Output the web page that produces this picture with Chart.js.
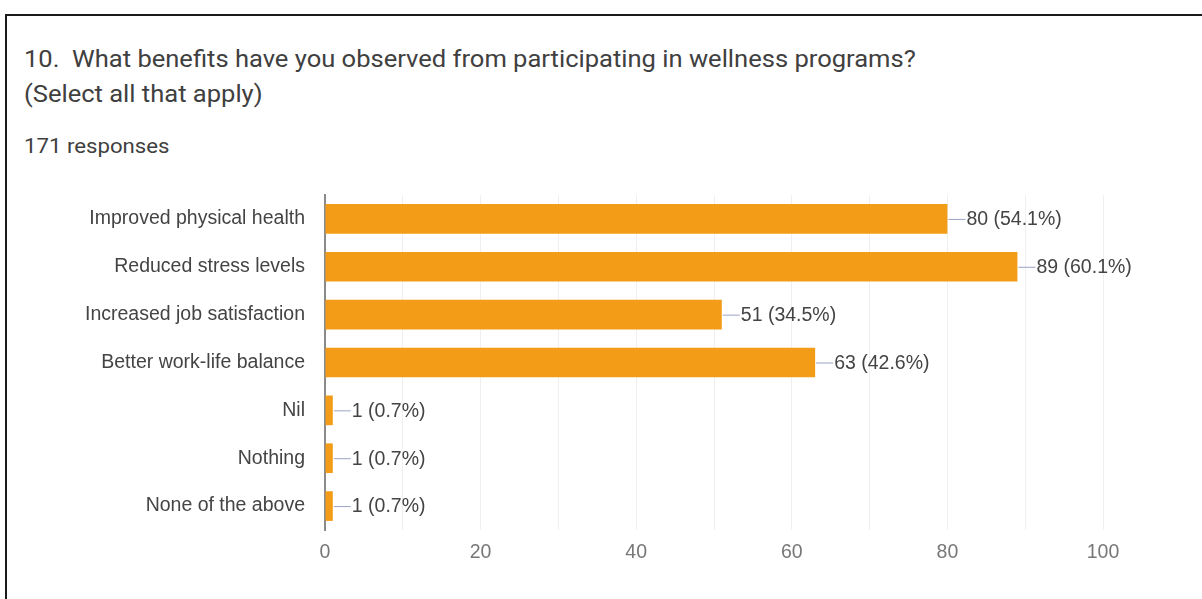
<!DOCTYPE html>
<html lang="en">
<head>
<meta charset="UTF-8" />
<title>Wellness program benefits</title>
<script src="https://cdn.jsdelivr.net/npm/chart.js"></script>
<style>
body {
    margin: 0;
    background: #fff;
    width: 1202px;
    height: 599px;
    overflow: hidden;
    position: relative;
}
.frame {
    position: absolute;
    left: 5px;
    top: 14px;
    right: -10px;
    bottom: -10px;
    border-left: 2px solid #1a1a1a;
    border-top: 2px solid #1a1a1a;
}
.txt {
    position: absolute;
    left: 24px;
    font-family: Roboto, sans-serif;
    color: #404040;
    white-space: pre;
    transform-origin: left top;
    transform: scaleX(1.11);
}
.q1 { top: 46px; font-size: 23px; }
.q2 { top: 81px; font-size: 23px; }
.resp { top: 134px; font-size: 20px; }
#chartBox {
    position: absolute;
    left: 0;
    top: 0;
    width: 1202px;
    height: 599px;
}
</style>
</head>
<body>
<div class="frame"></div>
<div class="txt q1">10.  What benefits have you observed from participating in wellness programs?</div>
<div class="txt q2">(Select all that apply)</div>
<div class="txt resp">171 responses</div>
<div id="chartBox"><canvas id="benefitChart"></canvas></div>

<script>
// data
const categories = ['Improved physical health', 'Reduced stress levels', 'Increased job satisfaction',
    'Better work-life balance', 'Nil', 'Nothing', 'None of the above'];
const counts = [80, 89, 51, 63, 1, 1, 1];
const percents = ['54.1%', '60.1%', '34.5%', '42.6%', '0.7%', '0.7%', '0.7%'];
const xTicks = [0, 20, 40, 60, 80, 100];

// draws "—80 (54.1%)" next to each bar
const valueLabels = {
    id: 'valueLabels',
    afterDatasetsDraw(chart) {
        const ctx = chart.ctx;
        const meta = chart.getDatasetMeta(0);
        ctx.save();
        ctx.font = '19.5px "Liberation Sans", Arial, sans-serif';
        ctx.textBaseline = 'middle';
        ctx.textAlign = 'left';
        meta.data.forEach((bar, i) => {
            ctx.strokeStyle = '#9aa4c4';
            ctx.lineWidth = 1;
            ctx.beginPath();
            ctx.moveTo(bar.x + 1, bar.y + 0.5);
            ctx.lineTo(bar.x + 18, bar.y + 0.5);
            ctx.stroke();
            ctx.fillStyle = '#444';
            ctx.fillText(counts[i] + ' (' + percents[i] + ')', bar.x + 19, bar.y + 1);
        });
        ctx.restore();
    }
};

new Chart(document.getElementById('benefitChart'), {
    type: 'bar',
    data: {
        labels: categories,
        datasets: [{
            data: counts,
            backgroundColor: '#f39c17',
            barPercentage: 0.62,
            categoryPercentage: 1
        }]
    },
    options: {
        indexAxis: 'y',
        responsive: true,
        maintainAspectRatio: false,
        animation: false,
        layout: { padding: { top: 195, right: 99, bottom: 30, left: 0 } },
        plugins: {
            legend: { display: false },
            tooltip: { enabled: false }
        },
        scales: {
            x: {
                min: 0,
                max: 100,
                afterFit(scale) { scale.height = 39; },
                ticks: {
                    stepSize: 10,
                    padding: 11,
                    color: '#777',
                    font: { family: '"Liberation Sans", Arial, sans-serif', size: 19.5 },
                    callback: v => xTicks.includes(v) ? v : ''
                },
                grid: { color: '#efefef', drawTicks: false },
                border: { display: false }
            },
            y: {
                afterFit(scale) { scale.width = 325; },
                ticks: {
                    padding: 20,
                    color: '#444',
                    font: { family: '"Liberation Sans", Arial, sans-serif', size: 19.5 }
                },
                grid: { display: false, drawTicks: false },
                border: { color: '#8a8a8a', width: 2 }
            }
        }
    },
    plugins: [valueLabels]
});
</script>
</body>
</html>
